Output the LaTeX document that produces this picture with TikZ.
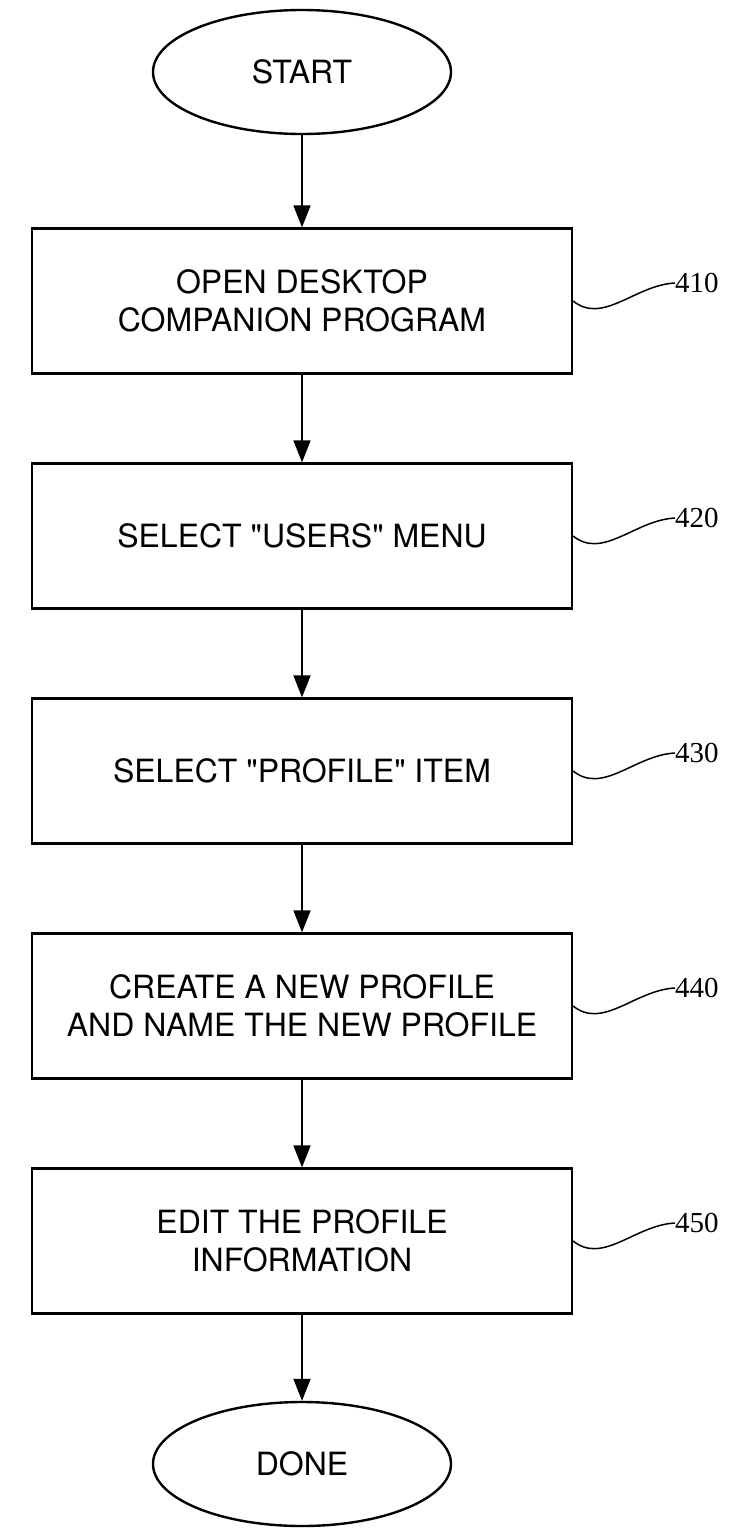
\documentclass[tikz,border=0pt]{standalone}
\usepackage{fontspec}
\setmainfont{TeX Gyre Heros}[Ligatures=TeXOff]
\newfontfamily\numfont{Liberation Serif}
\usetikzlibrary{arrows.meta,shapes.geometric}

\begin{document}
\begin{tikzpicture}[x=1pt, y=-1pt,
		procbox/.style={draw, line width=2.2pt, minimum width=540pt, minimum height=145pt, inner sep=0pt, align=center, font=\fontsize{32}{38}\selectfont},
		term/.style={draw, ellipse, line width=2.4pt, minimum width=298pt, minimum height=124pt, inner sep=0pt, font=\fontsize{32}{38}\selectfont},
		flow/.style={line width=1.6pt, -{Triangle[length=22pt, width=17pt]}},
		reflabel/.style={anchor=west, inner sep=0pt, font=\numfont\fontsize{29}{34}\selectfont},
		lead/.style={line width=1.5pt}]
		\useasboundingbox (0,0) rectangle (730,1529);
		\node[term] (start) at (302,72) {START};
		\node[procbox] (open) at (302,301) {OPEN DESKTOP\\COMPANION PROGRAM};
		\node[procbox] (users) at (302,536) {SELECT "USERS" MENU};
		\node[procbox] (profile) at (302,771) {SELECT "PROFILE" ITEM};
		\node[procbox] (create) at (302,1006) {CREATE A NEW PROFILE\\AND NAME THE NEW PROFILE};
		\node[procbox] (edit) at (302,1241) {EDIT THE PROFILE\\INFORMATION};
		\node[term] (done) at (302,1464) {DONE};
		\node[reflabel] (n410) at (675,283) {410};
		\node[reflabel] (n420) at (675,518) {420};
		\node[reflabel] (n430) at (675,753) {430};
		\node[reflabel] (n440) at (675,988) {440};
		\node[reflabel] (n450) at (675,1223) {450};
		\draw[lead] (open.east) .. controls +(30,24) and +(-40,2) .. (n410.west);
		\draw[lead] (users.east) .. controls +(30,24) and +(-40,2) .. (n420.west);
		\draw[lead] (profile.east) .. controls +(30,24) and +(-40,2) .. (n430.west);
		\draw[lead] (create.east) .. controls +(30,24) and +(-40,2) .. (n440.west);
		\draw[lead] (edit.east) .. controls +(30,24) and +(-40,2) .. (n450.west);
		\draw[flow] (start) -- (open);
		\draw[flow] (open) -- (users);
		\draw[flow] (users) -- (profile);
		\draw[flow] (profile) -- (create);
		\draw[flow] (create) -- (edit);
		\draw[flow] (edit) -- (done);
		\end{tikzpicture}
\end{document}
